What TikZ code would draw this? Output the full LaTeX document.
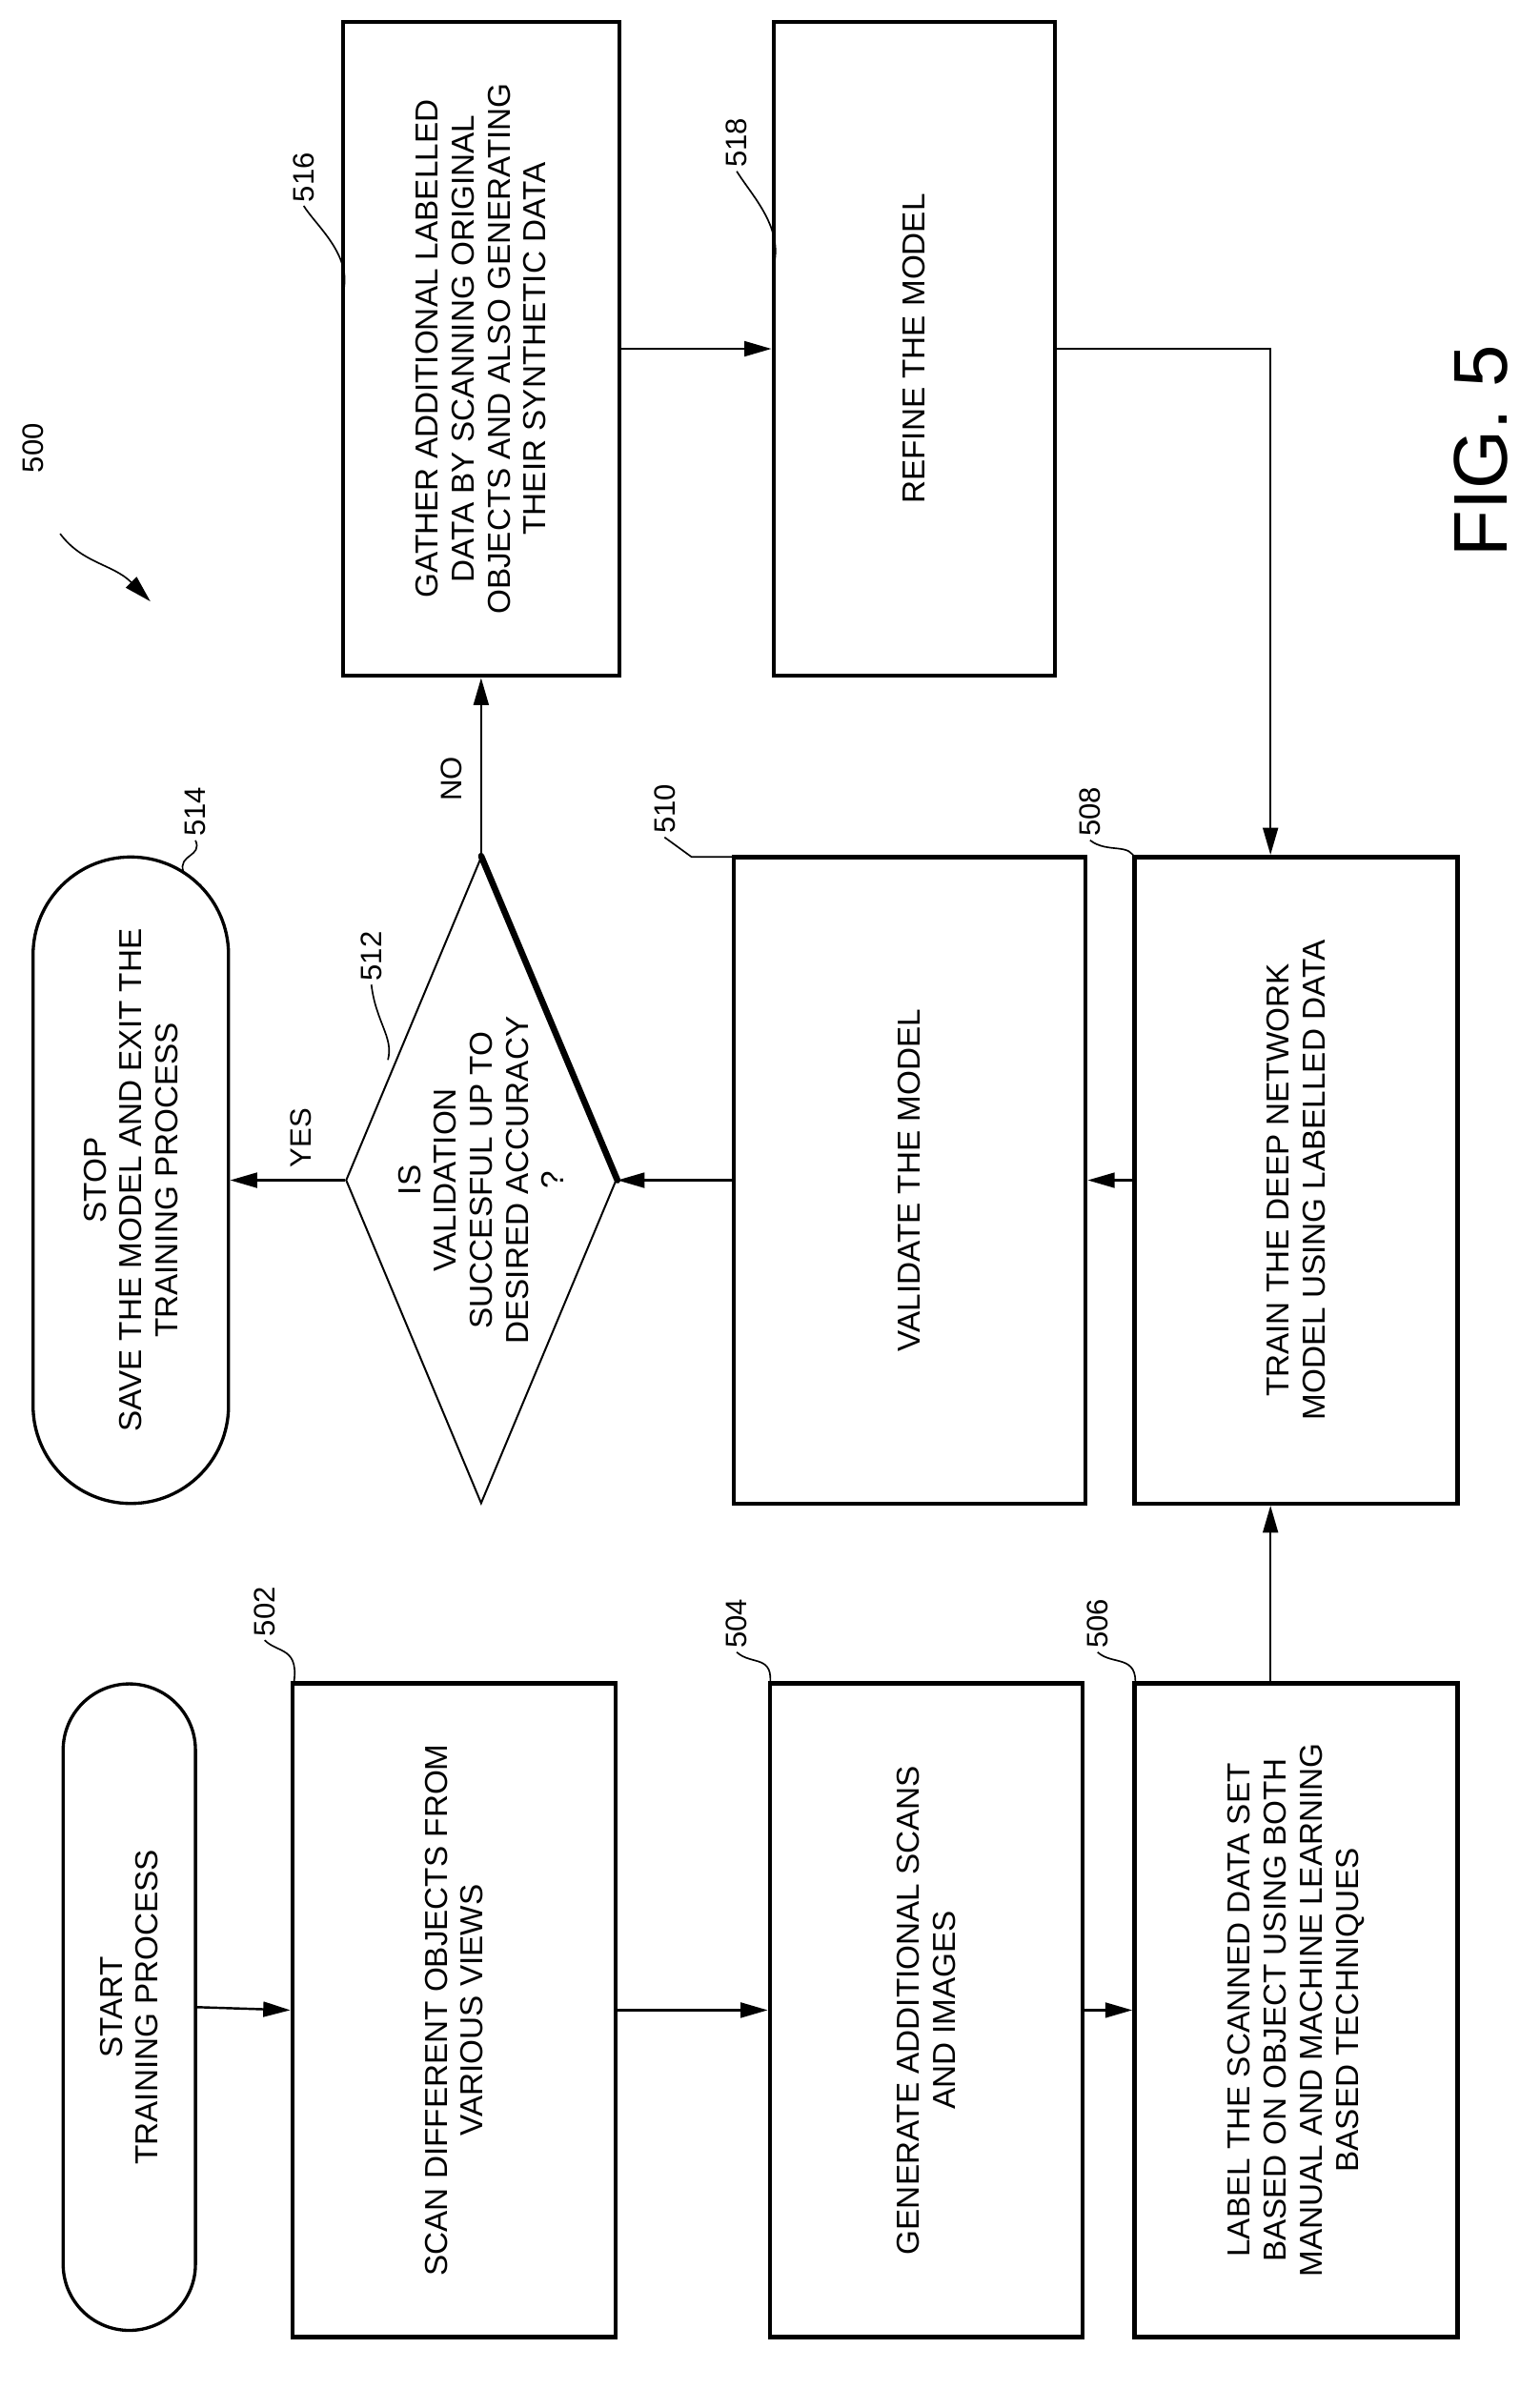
\documentclass[tikz,border=0pt]{standalone}
\usepackage{fontspec}
\setmainfont{Liberation Sans}
\usetikzlibrary{shapes.geometric,arrows.meta}
\begin{document}
\begin{tikzpicture}[x=0.05cm,y=-0.05cm,
  box/.style 2 args={draw,line width=4pt,rotate=90,minimum width=#1*0.05cm,minimum height=#2*0.05cm,inner sep=0pt,align=center,font=\fontsize{30}{34}\selectfont},
  term/.style 2 args={box={#1}{#2},rounded corners=#2*0.025cm,line width=3pt},
  arr/.style={line width=2.2pt,-{Triangle[length=0.9cm,width=0.5cm]}},
  lbl/.style={rotate=90,font=\fontsize{28}{32}\selectfont},
  lead/.style={line width=1.5pt}]
\useasboundingbox (0,0) rectangle (1024,1589);
\node[term={430}{88}] (start) at (86,1335) {START\\TRAINING PROCESS};
\node[box={435}{215}] (b502) at (302,1337) {SCAN DIFFERENT OBJECTS FROM\\VARIOUS VIEWS};
\node[box={435}{208}] (b504) at (616,1337) {GENERATE ADDITIONAL SCANS\\AND IMAGES};
\node[box={435}{215}] (b506) at (862,1337) {LABEL THE SCANNED DATA SET\\BASED ON OBJECT USING BOTH\\MANUAL AND MACHINE LEARNING\\BASED TECHNIQUES};
\node[box={430}{215}] (b508) at (862,785) {TRAIN THE DEEP NETWORK\\MODEL USING LABELLED DATA};
\node[box={430}{234}] (b510) at (605,785) {VALIDATE THE MODEL};
\node[draw,diamond,rotate=90,line width=1.8pt,minimum width=430*0.05cm,minimum height=180*0.05cm,shape aspect=2.39,inner sep=0pt] (d512) at (320,785) {};
\node[rotate=90,align=center,font=\fontsize{30}{34}\selectfont] at (320,785) {IS\\VALIDATION\\SUCCESFUL UP TO\\DESIRED ACCURACY\\?};
\draw[line width=6pt,line cap=round] (d512.east) -- (d512.south);
\node[term={430}{130}] (t514) at (87,785) {STOP\\SAVE THE MODEL AND EXIT THE\\TRAINING PROCESS};
\node[box={435}{184}] (b516) at (320,232) {GATHER ADDITIONAL LABELLED\\DATA BY SCANNING ORIGINAL\\OBJECTS AND ALSO GENERATING\\THEIR SYNTHETIC DATA};
\node[box={435}{187}] (b518) at (608,232) {REFINE THE MODEL};
% connectors
\draw[arr] (start.south) -- (b502.north);
\draw[arr] (b502.south) -- (b504.north);
\draw[arr] (b504.south) -- (b506.north);
\coordinate (c2) at (845,1120);
\draw[arr] (c2) -- (c2 |- b508.west);
\draw[arr] (b508.north) -- (b510.south);
\draw[arr] (b510.north) -- (d512.south);
\draw[arr] (d512.north) -- (t514.south);
\node[lbl] (yes) at (200,757) {YES};
\draw[arr] (d512.east) -- (b516.west);
\node[lbl] (no) at (300,518) {NO};
\draw[arr] (b516.south) -- (b518.north);
\coordinate (c1) at (845,232);
\draw[arr] (b518.south) -- (c1) -- (c1 |- b508.east);
% reference labels
\node[lbl] (l500) at (22,298) {500};
\draw[lead,-{Triangle[length=0.9cm,width=0.5cm]}] (40,355) .. controls (55,375) and (75,375) .. (100,400);
\node[lbl] (l502) at (176,1072) {502};
\draw[lead] (l502.west) .. controls (185,1100) and (200,1095) .. (195,1122);
\node[lbl] (l504) at (490,1080) {504};
\draw[lead] (l504.west) .. controls (500,1108) and (515,1100) .. (512,1122);
\node[lbl] (l506) at (730,1080) {506};
\draw[lead] (l506.west) .. controls (740,1108) and (757,1100) .. (755,1122);
\node[lbl] (l508) at (725,540) {508};
\draw[lead] (l508.west) .. controls (737,568) and (752,560) .. (755,572);
\node[lbl] (l510) at (442,538) {510};
\draw[lead] (l510.west) -- (460,570) -- (488,570);
\node[lbl] (l512) at (247,636) {512};
\draw[lead] (l512.west) .. controls (250,680) and (262,690) .. (258,705);
\node[lbl] (l514) at (130,540) {514};
\draw[lead] (l514.west) .. controls (135,570) and (118,568) .. (122,580);
\node[lbl] (l516) at (202,118) {516};
\draw[lead] (l516.west) .. controls (210,150) and (235,170) .. (228,195);
\node[lbl] (l518) at (490,95) {518};
\draw[lead] (l518.west) .. controls (500,130) and (520,150) .. (515,175);
\node[rotate=90,font=\fontsize{72}{80}\selectfont] (fig) at (985,300) {FIG. 5};
\end{tikzpicture}
\end{document}
